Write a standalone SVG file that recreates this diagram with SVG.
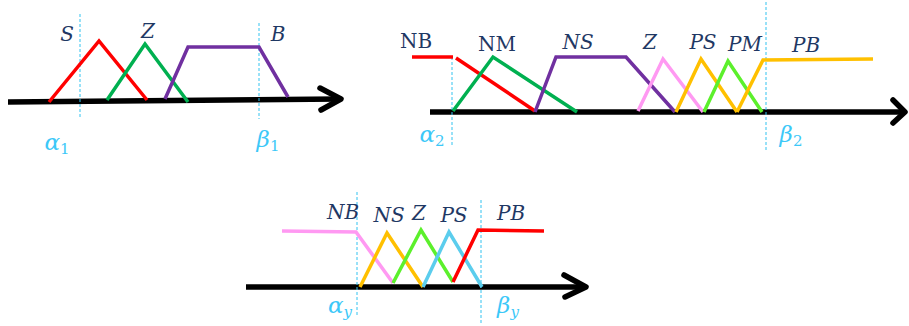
<svg xmlns="http://www.w3.org/2000/svg" width="909" height="326" viewBox="0 0 909 326">
<style>
.ax{stroke:#000;stroke-width:5.5;fill:none;stroke-linecap:butt}
.ah{stroke:#000;stroke-width:5.5;fill:none;stroke-linecap:round;stroke-linejoin:round}
.mf{fill:none;stroke-width:3.5;stroke-linejoin:miter;stroke-linecap:butt}
.dl{stroke:#33C3F0;stroke-width:1;stroke-dasharray:3 2;fill:none}
.lb{font-family:"DejaVu Serif","Liberation Serif",serif;font-size:20px;fill:#1F3864;text-anchor:middle}
.it{font-style:italic}
.gk{font-family:"DejaVu Serif","Liberation Serif",serif;font-style:italic;font-size:23px;fill:#3CC8F8;text-anchor:middle}
.sb{font-size:15px;font-style:normal}
.sbi{font-size:15px}
.r{stroke:#FF0000}.g{stroke:#00B050}.p{stroke:#7030A0}.k{stroke:#FF99F2}.o{stroke:#FFC000}.lg{stroke:#5CF02C}.c{stroke:#5BCDED}
</style>
<g id="chart1">
  <g id="axis1"><line class="ax" x1="8" y1="102" x2="340" y2="99"/><polyline class="ah" points="320,88 341,99 321,110"/></g>
  <line class="dl" x1="80" y1="14" x2="80" y2="119"/>
  <line class="dl" x1="259" y1="23" x2="259" y2="119"/>
  <g id="S1"><polyline class="mf r" points="49,102 99,41 147,100"/><text class="lb it" x="67" y="41">S</text></g>
  <g id="Z1"><polyline class="mf g" points="107,100 145,44 188,102"/><text class="lb it" x="148" y="38">Z</text></g>
  <g id="B1"><polyline class="mf p" points="165,99 188,47 259,47 288,97"/><text class="lb it" x="278" y="41">B</text></g>
  <text class="gk" x="57" y="150">α<tspan class="sb" dy="4">1</tspan></text>
  <text class="gk" x="268" y="147">β<tspan class="sb" dy="4">1</tspan></text>
</g>
<g id="chart2">
  <g id="axis2"><line class="ax" x1="430" y1="112" x2="904" y2="112"/><polyline class="ah" points="893,100 905,112 893,123"/></g>
  <line class="dl" x1="452" y1="57" x2="452" y2="145"/>
  <line class="dl" x1="766" y1="2" x2="766" y2="152"/>
  <g id="NB2"><polyline class="mf r" points="412,57 453,57"/><polyline class="mf r" points="456,58 535,111"/><text class="lb" x="416" y="48">NB</text></g>
  <g id="NM2"><polyline class="mf g" points="453,111 493,57 577,112"/><text class="lb" x="497" y="51">NM</text></g>
  <g id="NS2"><polyline class="mf p" points="535,112 556,57 626,57 675,112"/><text class="lb it" x="578" y="49">NS</text></g>
  <g id="Z2"><polyline class="mf k" points="638,111 663,59 703,112"/><text class="lb it" x="650" y="49">Z</text></g>
  <g id="PS2"><polyline class="mf o" points="676,112 701,59 737,112"/><text class="lb it" x="703" y="49">PS</text></g>
  <g id="PM2"><polyline class="mf lg" points="704,112 728,61 762,112"/><text class="lb it" x="745" y="51">PM</text></g>
  <g id="PB2"><polyline class="mf o" points="737,112 763,60 873,59"/><text class="lb it" x="806" y="52">PB</text></g>
  <text class="gk" x="432" y="142">α<tspan class="sb" dy="4">2</tspan></text>
  <text class="gk" x="791" y="142">β<tspan class="sb" dy="4">2</tspan></text>
</g>
<g id="chart3">
  <g id="axis3"><line class="ax" x1="246" y1="287" x2="584" y2="287"/><polyline class="ah" points="564,275 586,287 565,297"/></g>
  <line class="dl" x1="357" y1="192" x2="357" y2="317"/>
  <line class="dl" x1="481" y1="200" x2="481" y2="325"/>
  <g id="NB3"><polyline class="mf k" points="282,231 356,232 393,283"/><text class="lb it" x="343" y="219">NB</text></g>
  <g id="NS3"><polyline class="mf o" points="360,287 387,233 423,287"/><text class="lb it" x="389" y="222">NS</text></g>
  <g id="Z3"><polyline class="mf lg" points="393,283 421,230 453,282"/><text class="lb it" x="419" y="220">Z</text></g>
  <g id="PS3"><polyline class="mf c" points="423,287 449,232 482,287"/><text class="lb it" x="454" y="222">PS</text></g>
  <g id="PB3"><polyline class="mf r" points="453,282 478,230 544,231"/><text class="lb it" x="511" y="220">PB</text></g>
  <text class="gk" x="340" y="313">α<tspan class="sbi" dy="4">y</tspan></text>
  <text class="gk" x="508" y="313">β<tspan class="sbi" dy="4">y</tspan></text>
</g>
</svg>
